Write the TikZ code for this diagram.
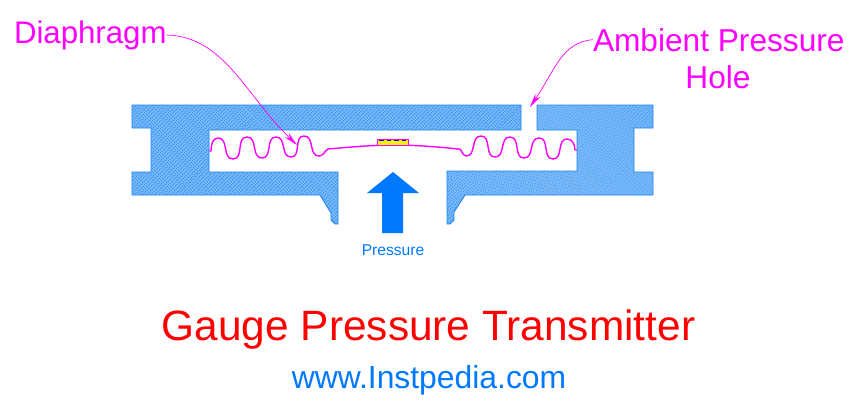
\documentclass[tikz,border=0pt]{standalone}
\usepackage{fontspec}
\setmainfont{Liberation Sans}
\usepackage{xcolor}
\usetikzlibrary{arrows.meta,patterns.meta}
\definecolor{mag}{HTML}{FF00FF}
\definecolor{hatchblue}{HTML}{1C86F2}
\definecolor{hatchpale}{HTML}{78B8F8}
\definecolor{arrowblue}{HTML}{0078FF}
\newcommand{\fs}[1]{\fontsize{#1}{#1}\selectfont}
\tikzset{
  lbl/.style={inner sep=0pt,outer sep=0pt,text=mag,font=\fs{31.65}},
  body/.style={draw=hatchblue,line width=0.9pt,line join=miter,preaction={fill=hatchpale},
    pattern={Lines[angle=-45,distance=2.121pt,line width=1.15pt]},pattern color=hatchblue},
  membrane/.style={draw=mag,line width=1.4pt,line join=round},
  leader/.style={draw=mag,line width=0.7pt,-{Stealth[length=5mm,width=2.1mm]}},
  wave/.style={out=0,in=180,looseness=1.1},
}

\begin{document}
\begin{tikzpicture}[x=1pt,y=-1pt]
\useasboundingbox (0,0) rectangle (854,400);
% housing
\draw[body] (132,105) -- (521,105) -- (521,130) -- (209,130) -- (209,172) -- (338,172)
  -- (338,224) -- (335,224) -- (331,220) -- (331,213) -- (320,195) -- (132,195)
  -- (132,172) -- (151,172) -- (151,128) -- (132,128) -- cycle;
\draw[body] (537,105) -- (653,105) -- (653,128) -- (634,128) -- (634,172) -- (653,172)
  -- (653,195) -- (465,195) -- (454,212) -- (454,220) -- (450,224) -- (447,224)
  -- (447,171) -- (577,171) -- (577,130) -- (537,130) -- cycle;
% diaphragm
\draw[membrane] (209,151) -- (211,151) to[out=90,in=180] (218,138)
  to[wave] (233,159) to[wave] (247,137) to[wave] (262,158) to[wave] (276,137)
  to[wave] (291,157) to[wave] (304,136) to[wave] (319,156) to[out=0,in=-150] (328,149)
  .. controls (350,147) and (375,145) .. (393,145)
  .. controls (415,145) and (440,147) .. (458,149)
  to[out=30,in=180] (466,156) to[wave] (481,136) to[wave] (495,157) to[wave] (510,137)
  to[wave] (524,158) to[wave] (539,138) to[wave] (553,159) to[wave] (567,139)
  to[out=0,in=90] (575,150) -- (577,150);
% sensor chip
\draw[fill=yellow,draw=mag,line width=1pt] (377,139.5) rectangle (408.5,145.5);
\draw[draw=blue,line width=0.9pt,dash pattern=on 4.5pt off 3pt] (379,140.8) -- (407,140.8);
% pressure arrow
\fill[arrowblue] (393,172) -- (419,193) -- (403,193) -- (403,233) -- (382,233) -- (382,193) -- (367,193) -- cycle;
\node[inner sep=0pt,text=arrowblue,font=\fs{15.6},anchor=base] (press) at (393,255) {Pressure};
% labels
\node[lbl,font=\fs{31.2},anchor=base west] (dia) at (14,43) {Diaphragm};
\node[lbl,anchor=base west] (amb) at (593,51) {Ambient Pressure};
\node[lbl,anchor=base] (hole) at (718,88) {Hole};
\coordinate (diatip) at (297,145);
\coordinate (holetip) at (530,107);
\draw[leader] (dia.east) .. controls (225,37) and (245,95) .. (diatip);
\draw[leader] (amb.west) .. controls (562,42) and (555,70) .. (holetip);
% title
\node[inner sep=0pt,text=red,font=\fs{42.4},anchor=base] (title) at (428.5,340) {Gauge Pressure Transmitter};
\node[inner sep=0pt,text=arrowblue,font=\fs{31.85},anchor=base] (site) at (429,388) {www.Instpedia.com};
\end{tikzpicture}
\end{document}
